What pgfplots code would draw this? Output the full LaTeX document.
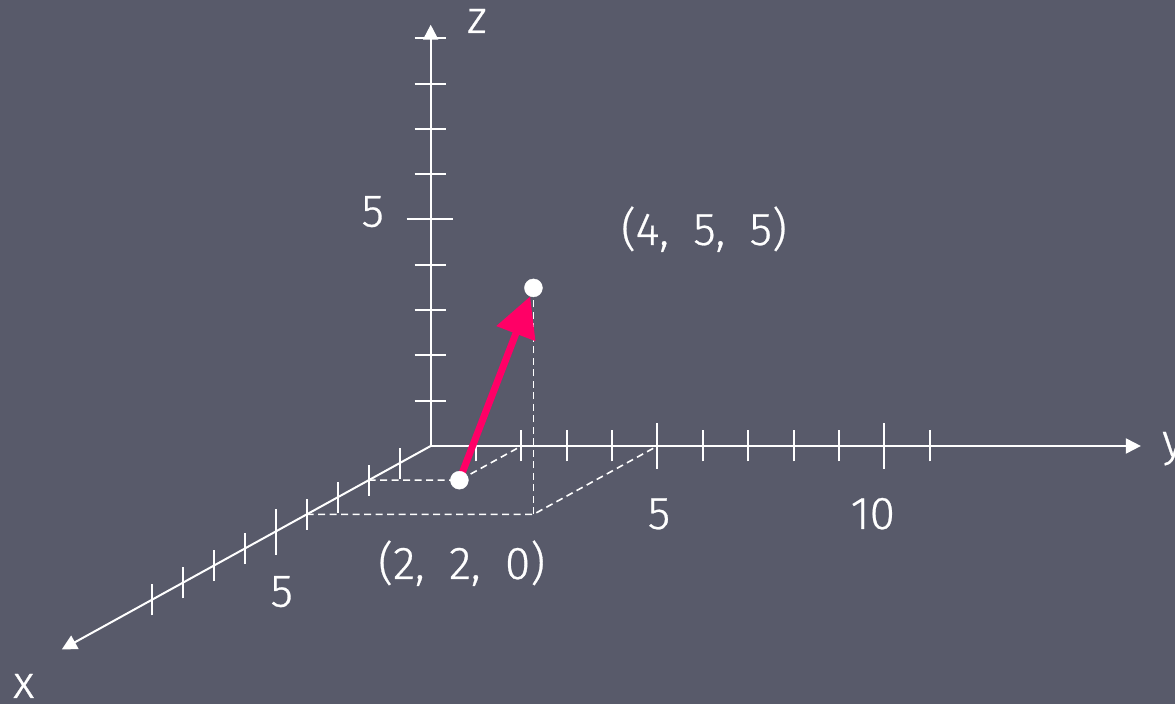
\documentclass[border=0pt]{standalone}
\usepackage{pgfplots}
\pgfplotsset{compat=1.18}
\usepackage{fontspec}
\setmainfont{Fira Sans Light}[WordSpace=1.9, FakeBold=0.6]
\usetikzlibrary{arrows.meta}
\definecolor{bg}{HTML}{585A6A}
\definecolor{vec}{HTML}{FF0066}
\begin{document}
\begin{tikzpicture}[x=1pt,y=1pt]
\path[use as bounding box, fill=bg] (0,0) rectangle (1175,704);
\begin{axis}[
  anchor=origin, at={(430.7pt,258pt)},
  x={(-31pt,-17.1pt)}, y={(45.35pt,0pt)}, z={(0pt,45.3pt)},
  xmin=0, xmax=11.9, ymin=0, ymax=15.66, zmin=0, zmax=9.3,
  hide axis, clip=false,
]
% axes
\draw[white, line width=2pt, -{Triangle[length=15pt,width=15pt]}] (axis cs:0,0,0) -- (axis cs:11.9,0,0);
\draw[white, line width=2pt, -{Triangle[length=15pt,width=15pt]}] (axis cs:0,0,0) -- (axis cs:0,15.66,0);
\draw[white, line width=2pt, -{Triangle[length=15pt,width=15pt]}] (axis cs:0,0,0) -- (axis cs:0,0,9.3);
% ticks
\pgfplotsinvokeforeach{1,2,3,4,6,7,8,9}{
  \draw[white, line width=2pt] ([yshift=-15.5pt]axis cs:#1,0,0) -- ([yshift=15.5pt]axis cs:#1,0,0);
  \draw[white, line width=2pt] ([xshift=-16pt]axis cs:0,0,#1) -- ([xshift=15pt]axis cs:0,0,#1);
}
\pgfplotsinvokeforeach{1,2,3,4,6,7,8,9,11}{
  \draw[white, line width=2pt] ([yshift=-15.5pt]axis cs:0,#1,0) -- ([yshift=15.5pt]axis cs:0,#1,0);
}
\draw[white, line width=2pt] ([yshift=-23pt]axis cs:5,0,0) -- ([yshift=23pt]axis cs:5,0,0);
\draw[white, line width=2pt] ([xshift=-24pt]axis cs:0,0,5) -- ([xshift=22pt]axis cs:0,0,5);
\draw[white, line width=2pt] ([yshift=-23pt]axis cs:0,5,0) -- ([yshift=23pt]axis cs:0,5,0);
\draw[white, line width=2pt] ([yshift=-23pt]axis cs:0,10,0) -- ([yshift=23pt]axis cs:0,10,0);
% projection lines
\addplot3[white, line width=1.6pt, dash pattern=on 7pt off 4.5pt] coordinates {(2,0,0) (2,2,0) (0,2,0)};
\addplot3[white, line width=1.6pt, dash pattern=on 7pt off 4.5pt] coordinates {(4,0,0) (4,5,0) (0,5,0)};
\addplot3[white, line width=1.6pt, dash pattern=on 7pt off 4.5pt] coordinates {(4,5,0) (4,5,5)};
% vector
\addplot3[vec, line width=7pt, -{Triangle[length=40pt,width=40pt]}, shorten >=9pt] coordinates {(2,2,0) (4,5,5)};
\addplot3[only marks, mark=*, mark size=9pt, white, mark options={draw=white, fill=white}] coordinates {(2,2,0) (4,5,5)};
\end{axis}
% labels
\begin{scope}[every node/.style={text=white, font=\fontsize{46}{52}\selectfont, inner sep=0pt}]
\node[anchor=base] at (704,459) {(4, 5, 5)};
\node[anchor=base] at (461.7,125) {(2, 2, 0)};
\node[anchor=base] at (281.7,97.3) {5};
\node[anchor=base] at (659,175) {5};
\node[anchor=base] at (872.8,175) {10};
\node[anchor=base] at (372.7,477.3) {5};
\node[anchor=base west] at (13,6) {x};
\node[anchor=base west] at (1162,248) {y};
\node[anchor=base west] at (467,671) {z};
\end{scope}
\end{tikzpicture}
\end{document}
